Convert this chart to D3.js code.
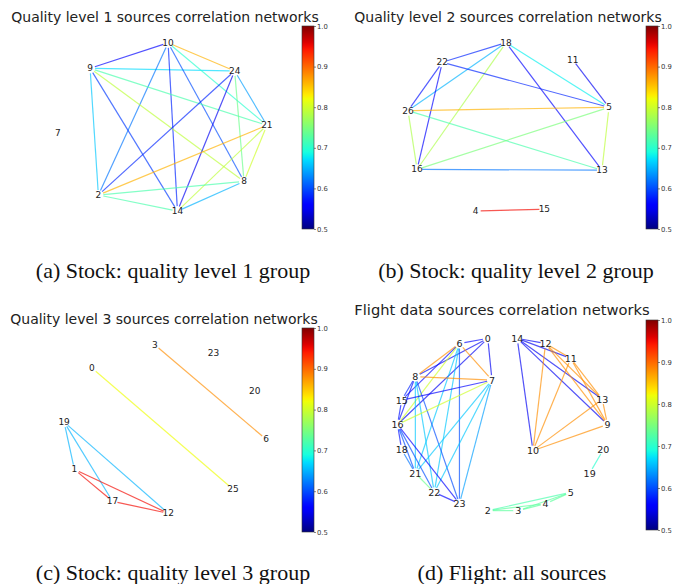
<!DOCTYPE html>
<html>
<head>
<meta charset="utf-8">
<script src="https://cdn.jsdelivr.net/npm/d3@7"></script>
<style>
  html, body { margin: 0; padding: 0; background: #fff; }
  svg { display: block; }
</style>
</head>
<body>
<svg id="chart" width="673" height="584"></svg>
<script>
// ---------- DATA ----------
const colorDomain = [0.5, 1.0];
const colorTicks = [0.5, 0.6, 0.7, 0.8, 0.9, 1.0];

// Panel (a)
const titleA = "Quality level 1 sources correlation networks";
const captionA = "(a) Stock: quality level 1 group";
const nodesA = ["21", "24", "10", "9", "7", "2", "14", "8"];
const nodeXA = [0.97, 0.66, 0.02, -0.73, -1.04, -0.65, 0.11, 0.75];
const nodeYA = [0.02, 0.66, 0.99, 0.69, -0.07, -0.80, -0.99, -0.64];
const edgesA = [
  ["9", "10", 0.56], ["10", "24", 0.86], ["9", "24", 0.67], ["10", "21", 0.70],
  ["10", "2", 0.62], ["10", "14", 0.58], ["10", "8", 0.60], ["9", "21", 0.72],
  ["9", "8", 0.79], ["9", "14", 0.59], ["9", "2", 0.66], ["24", "2", 0.58],
  ["24", "14", 0.55], ["24", "8", 0.74], ["24", "21", 0.64], ["21", "2", 0.86],
  ["21", "14", 0.79], ["21", "8", 0.80], ["2", "8", 0.72], ["2", "14", 0.72],
  ["8", "14", 0.65]
];

// Panel (b)
const titleB = "Quality level 2 sources correlation networks";
const captionB = "(b) Stock: quality level 2 group";
const nodesB = ["5", "11", "18", "22", "26", "16", "4", "15", "13"];
const nodeXB = [1.00, 0.64, -0.02, -0.65, -0.99, -0.90, -0.32, 0.36, 0.93];
const nodeYB = [0.22, 0.78, 0.98, 0.75, 0.18, -0.51, -1.00, -0.98, -0.52];
const edgesB = [
  ["18", "22", 0.58], ["18", "26", 0.65], ["18", "16", 0.78], ["18", "5", 0.68],
  ["18", "13", 0.56], ["22", "5", 0.58], ["22", "26", 0.57], ["22", "16", 0.56],
  ["11", "5", 0.55], ["26", "5", 0.86], ["26", "16", 0.78], ["26", "13", 0.72],
  ["16", "5", 0.75], ["16", "13", 0.62], ["5", "13", 0.79], ["4", "15", 0.95]
];

// Panel (c)
const titleC = "Quality level 3 sources correlation networks";
const captionC = "(c) Stock: quality level 3 group";
const nodesC = ["6", "20", "23", "3", "0", "19", "1", "17", "12", "25"];
const nodeXC = [1.00, 0.89, 0.49, -0.08, -0.69, -0.96, -0.86, -0.49, 0.05, 0.68];
const nodeYC = [-0.12, 0.44, 0.88, 0.98, 0.71, 0.08, -0.47, -0.84, -0.98, -0.70];
const edgesC = [
  ["3", "6", 0.88], ["0", "25", 0.82], ["19", "1", 0.65], ["19", "17", 0.65],
  ["19", "12", 0.65], ["1", "17", 0.95], ["1", "12", 0.95], ["17", "12", 0.95]
];

// Panel (d)
const titleD = "Flight data sources correlation networks";
const captionD = "(d) Flight: all sources";
const nodesD = ["0", "14", "6", "12", "11", "8", "7", "15", "13", "16", "9",
                "18", "10", "20", "21", "19", "22", "5", "23", "4", "2", "3"];
const nodeXD = [-0.14, 0.14, -0.41, 0.41, 0.65, -0.83, -0.10, -0.96, 0.95, -1.00, 1.00,
                -0.96, 0.29, 0.96, -0.83, 0.83, -0.65, 0.65, -0.41, 0.41, -0.14, 0.15];
const nodeYD = [0.99, 0.99, 0.93, 0.93, 0.76, 0.55, 0.51, 0.28, 0.29, 0.00, 0.00,
                -0.29, -0.30, -0.29, -0.56, -0.56, -0.78, -0.78, -0.91, -0.91, -0.99, -0.99];
const edgesD = [
  ["0", "6", 0.56], ["0", "7", 0.55], ["0", "8", 0.55], ["0", "16", 0.55],
  ["6", "8", 0.88], ["6", "15", 0.56], ["6", "7", 0.88], ["6", "16", 0.80],
  ["6", "21", 0.66], ["6", "22", 0.66], ["6", "23", 0.60],
  ["8", "7", 0.88], ["8", "15", 0.58], ["8", "16", 0.57], ["8", "21", 0.66],
  ["8", "22", 0.66], ["8", "23", 0.60],
  ["7", "15", 0.56], ["7", "16", 0.80], ["7", "21", 0.66], ["7", "22", 0.66], ["7", "23", 0.64],
  ["15", "16", 0.57], ["16", "18", 0.57], ["16", "21", 0.60], ["16", "22", 0.60],
  ["16", "23", 0.56], ["18", "21", 0.62], ["21", "22", 0.74], ["22", "23", 0.56],
  ["14", "12", 0.55], ["14", "11", 0.55], ["14", "13", 0.55], ["14", "9", 0.55], ["14", "10", 0.55],
  ["12", "11", 0.88], ["12", "13", 0.88], ["12", "9", 0.88], ["12", "10", 0.88],
  ["11", "13", 0.88], ["11", "9", 0.88], ["11", "10", 0.88],
  ["13", "9", 0.88], ["13", "10", 0.88], ["9", "10", 0.88],
  ["20", "19", 0.70],
  ["2", "3", 0.73], ["2", "4", 0.73], ["2", "5", 0.72], ["3", "4", 0.73], ["3", "5", 0.73], ["4", "5", 0.73]
];

// ---------- LAYOUT (pixels) ----------
const panels = [
  { title: titleA, caption: captionA, nodes: nodesA, xs: nodeXA, ys: nodeYA, edges: edgesA,
    cx: 166, cy: 127, rx: 104, ry: 85, tx: 165, ty: 22, tfs: 14, nfs: 9,
    bx: 302, by0: 26, by1: 229, capX: 173, capY: 278 },
  { title: titleB, caption: captionB, nodes: nodesB, xs: nodeXB, ys: nodeYB, edges: edgesB,
    cx: 508, cy: 126, rx: 101, ry: 85, tx: 508, ty: 22, tfs: 14, nfs: 9,
    bx: 646, by0: 26, by1: 229, capX: 516, capY: 278 },
  { title: titleC, caption: captionC, nodes: nodesC, xs: nodeXC, ys: nodeYC, edges: edgesC,
    cx: 163, cy: 429, rx: 103, ry: 86, tx: 164, ty: 324, tfs: 14, nfs: 9,
    bx: 302, by0: 328, by1: 532, capX: 173, capY: 580 },
  { title: titleD, caption: captionD, nodes: nodesD, xs: nodeXD, ys: nodeYD, edges: edgesD,
    cx: 502.5, cy: 424.5, rx: 105, ry: 87, tx: 502, ty: 315, tfs: 14.7, nfs: 9.5,
    bx: 646, by0: 320, by1: 530, capX: 512, capY: 580 }
];

// ---------- JET COLORMAP ----------
const jr = d3.scaleLinear().domain([0, 0.35, 0.66, 0.89, 1]).range([0, 0, 1, 1, 0.5]).clamp(true);
const jg = d3.scaleLinear().domain([0, 0.125, 0.375, 0.64, 0.91, 1]).range([0, 0, 1, 1, 0, 0]).clamp(true);
const jb = d3.scaleLinear().domain([0, 0.11, 0.34, 0.65, 1]).range([0.5, 1, 1, 0, 0]).clamp(true);
function jet(t) {
  return d3.rgb(Math.round(jr(t) * 255), Math.round(jg(t) * 255), Math.round(jb(t) * 255)).toString();
}
const tScale = d3.scaleLinear().domain(colorDomain).range([0, 1]).clamp(true);
const colorOf = v => jet(tScale(v));

// ---------- DRAW ----------
const svg = d3.select("#chart");
const defs = svg.append("defs");
const grad = defs.append("linearGradient").attr("id", "jetgrad")
  .attr("x1", "0").attr("y1", "1").attr("x2", "0").attr("y2", "0");
d3.range(0, 1.0001, 0.02).forEach(t => {
  grad.append("stop").attr("offset", t).attr("stop-color", jet(t));
});

const SHORT = 5;
const BAR_W = 12;

panels.forEach(p => {
  const g = svg.append("g");
  const x = d3.scaleLinear().domain([-1, 1]).range([p.cx - p.rx, p.cx + p.rx]);
  const y = d3.scaleLinear().domain([-1, 1]).range([p.cy + p.ry, p.cy - p.ry]);
  const pos = {};
  p.nodes.forEach((n, i) => { pos[n] = [x(p.xs[i]), y(p.ys[i])]; });

  // edges
  g.append("g").selectAll("line").data(p.edges).join("line")
    .each(function(e) {
      const a = pos[e[0]], b = pos[e[1]];
      const dx = b[0] - a[0], dy = b[1] - a[1];
      const L = Math.hypot(dx, dy);
      const ux = dx / L, uy = dy / L;
      d3.select(this)
        .attr("x1", a[0] + ux * SHORT).attr("y1", a[1] + uy * SHORT)
        .attr("x2", b[0] - ux * SHORT).attr("y2", b[1] - uy * SHORT);
    })
    .attr("stroke", e => colorOf(e[2]))
    .attr("stroke-width", 1.2)
    .attr("stroke-opacity", 0.68);

  // node labels
  g.append("g").selectAll("text").data(p.nodes).join("text")
    .attr("x", n => pos[n][0]).attr("y", n => pos[n][1])
    .attr("text-anchor", "middle").attr("dominant-baseline", "central")
    .attr("font-family", "DejaVu Sans, sans-serif").attr("font-size", p.nfs)
    .attr("fill", "#222")
    .text(n => n);

  // title
  g.append("text").attr("x", p.tx).attr("y", p.ty)
    .attr("text-anchor", "middle")
    .attr("font-family", "DejaVu Sans, sans-serif").attr("font-size", p.tfs)
    .attr("fill", "#222").text(p.title);

  // colorbar
  const cb = g.append("g");
  cb.append("rect").attr("x", p.bx).attr("y", p.by0)
    .attr("width", BAR_W).attr("height", p.by1 - p.by0)
    .attr("fill", "url(#jetgrad)").attr("stroke", "#333").attr("stroke-width", 0.6);
  const cy = d3.scaleLinear().domain(colorDomain).range([p.by1, p.by0]);
  const ax = cb.append("g").attr("transform", `translate(${p.bx + BAR_W},0)`)
    .call(d3.axisRight(cy).tickValues(colorTicks).tickSize(2).tickPadding(1).tickFormat(d3.format(".1f")));
  ax.select(".domain").remove();
  ax.selectAll("line").attr("stroke", "#333").attr("stroke-width", 0.6);
  ax.selectAll("text").attr("font-family", "DejaVu Sans, sans-serif").attr("font-size", 6.8).attr("fill", "#333");

  // caption
  g.append("text").attr("x", p.capX).attr("y", p.capY)
    .attr("text-anchor", "middle")
    .attr("font-family", "Liberation Serif, Times New Roman, serif").attr("font-size", 22)
    .attr("fill", "#111").text(p.caption);
});
</script>
</body>
</html>
